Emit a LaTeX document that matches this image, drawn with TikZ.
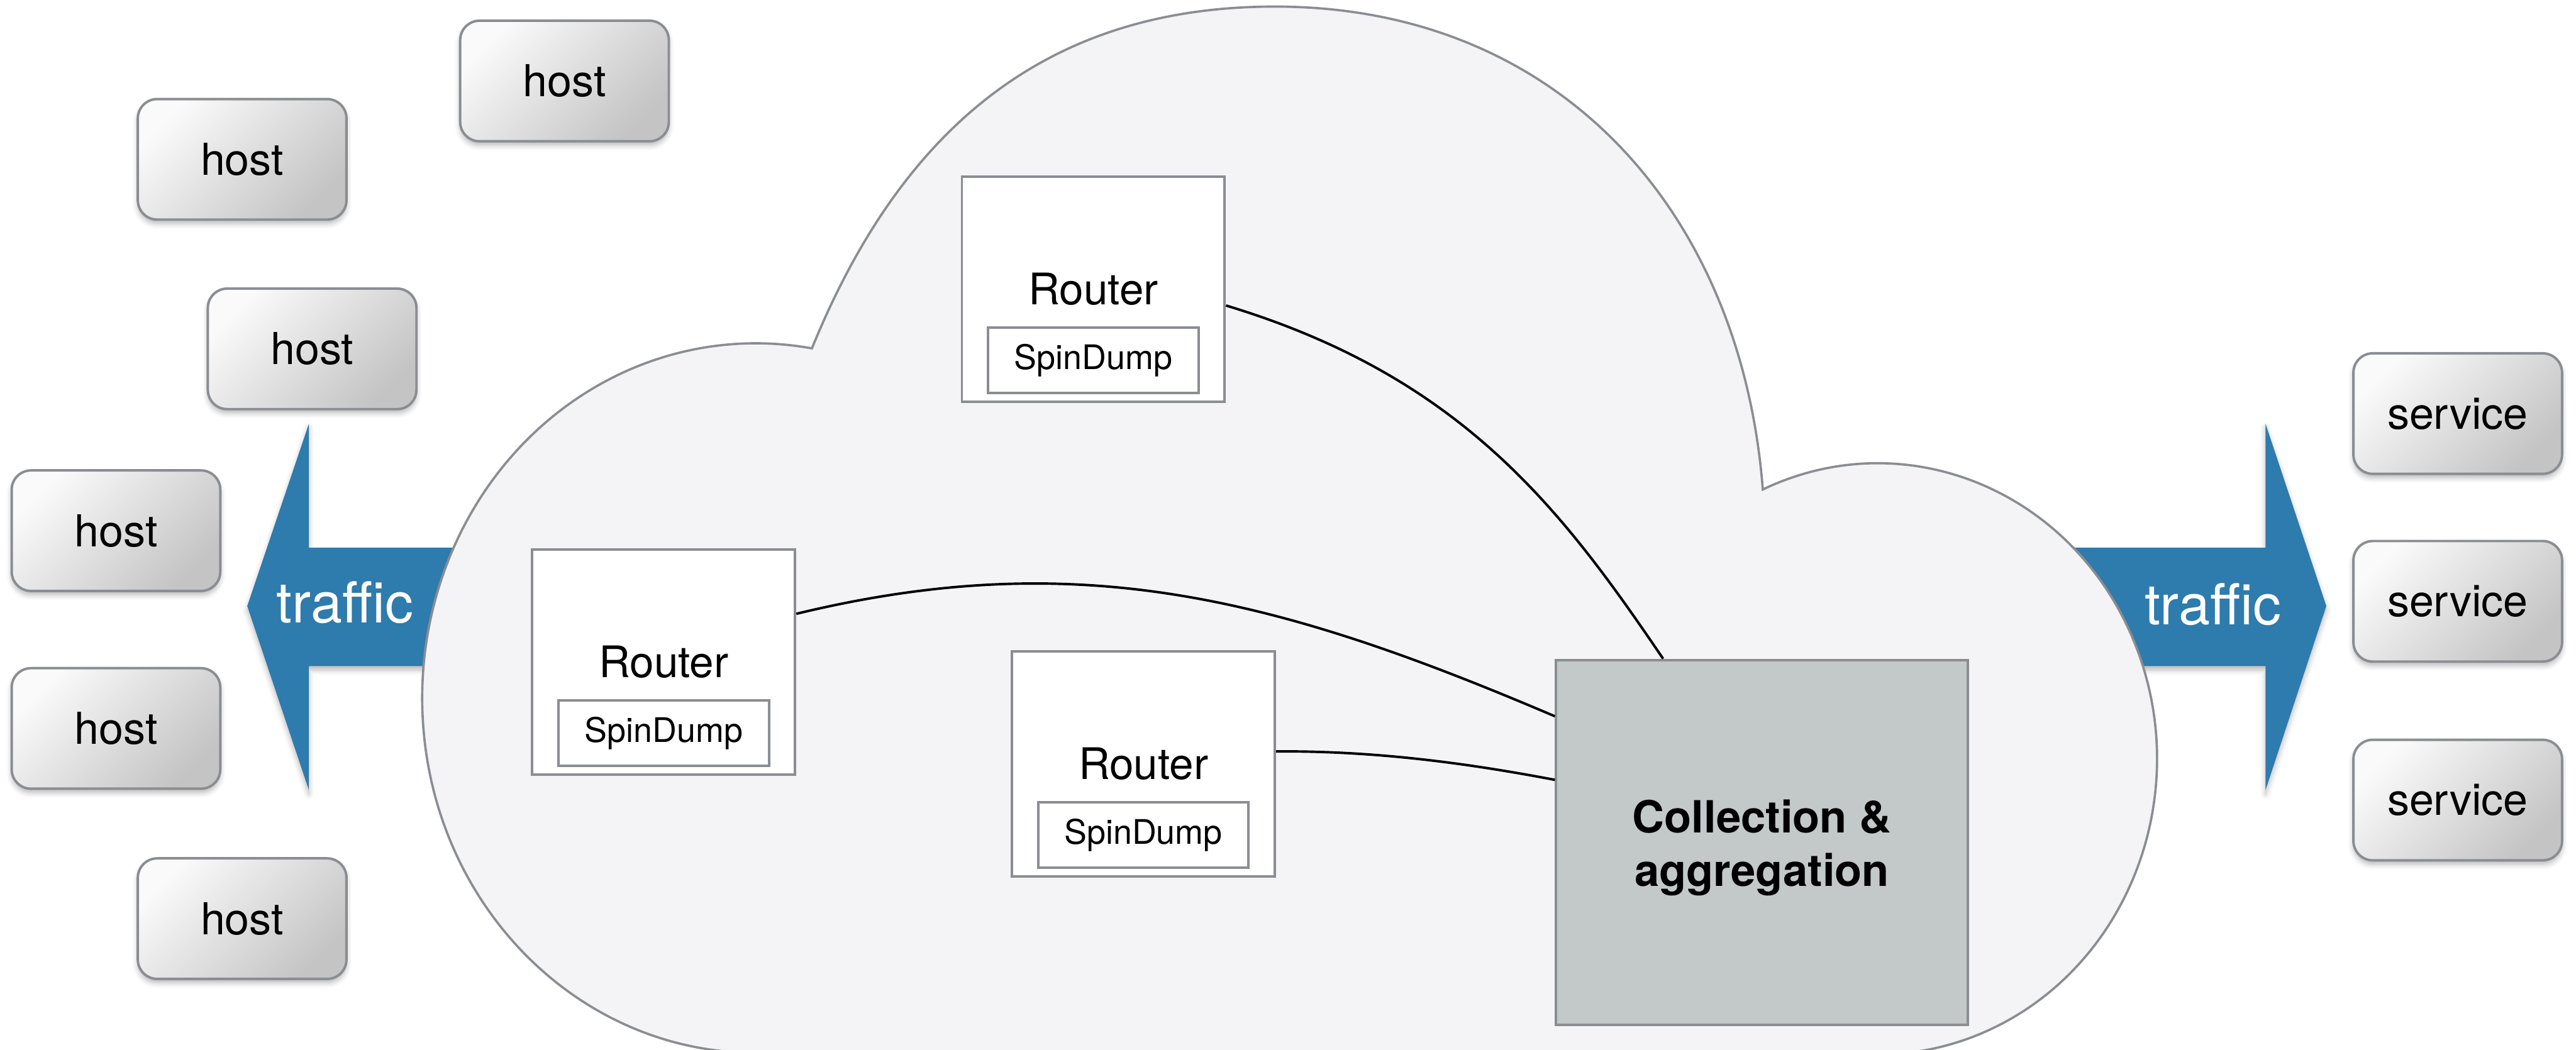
\documentclass[tikz,border=0pt]{standalone}
\usepackage{fontspec}
\setmainfont{TeX Gyre Heros}
\usetikzlibrary{calc,shadows.blur}

\definecolor{edgegray}{RGB}{138,141,145}
\definecolor{cloudfill}{RGB}{244,243,246}
\definecolor{flowblue}{RGB}{46,123,173}
\definecolor{collfill}{RGB}{195,200,200}
\definecolor{boxlight}{RGB}{250,250,250}
\definecolor{boxdark}{RGB}{196,196,196}

\begin{document}
\begin{tikzpicture}[x=0.5pt, y=-0.5pt,
  softshadow/.style={blur shadow={shadow xshift=0pt, shadow yshift=-1.2pt,
      shadow blur radius=1.6pt, shadow opacity=28}},
  endbox/.style={draw=edgegray, line width=0.75pt, rounded corners=5.9pt,
      minimum width=63.5pt, minimum height=36.7pt, inner sep=0pt,
      top color=boxlight, bottom color=boxdark, shading angle=45,
      softshadow, font=\fontsize{13.4}{16}\selectfont},
  routerbox/.style={draw=edgegray, line width=0.75pt, fill=white,
      minimum width=80pt, minimum height=68.5pt, inner sep=0pt},
  dumpbox/.style={draw=edgegray, line width=0.75pt, fill=white,
      minimum width=64pt, minimum height=20pt, inner sep=0pt,
      font=\fontsize{10.3}{12}\selectfont},
  routerlabel/.style={anchor=base, inner sep=0pt, font=\fontsize{13.25}{16}\selectfont},
  flowarrow/.style={fill=flowblue, softshadow},
  flowlabel/.style={text=white, inner sep=0pt, font=\fontsize{17.2}{20}\selectfont},
  cloudedge/.style={draw=edgegray, line width=0.7pt, fill=cloudfill},
  collbox/.style={draw=edgegray, line width=0.75pt, fill=collfill,
      minimum width=125.3pt, minimum height=111pt, inner sep=0pt},
  colllabel/.style={align=center, inner sep=0pt,
      font=\fontsize{13.5}{16.3}\selectfont\bfseries},
  link/.style={draw=black, line width=0.75pt}
]
\useasboundingbox (0,0) rectangle (1568,639);

% traffic arrows, partly hidden behind the cloud
\path[flowarrow] (300,333.5) -- (188,333.5) -- (188,258) -- (150.5,369)
  -- (188,481) -- (188,405.5) -- (300,405.5) -- cycle;
\path[flowarrow] (1250,333.5) -- (1379,333.5) -- (1379,258) -- (1416,369)
  -- (1379,481) -- (1379,405.5) -- (1250,405.5) -- cycle;

% the network cloud
\begin{scope}
  \clip (0,0) rectangle (1568,639);
  \path[cloudedge] (494.2,212.1) .. controls (550,75) and (640,4) .. (776,4)
    .. controls (950,4) and (1060,130) .. (1073,298)
    arc[start angle=-114.3, end angle=93, x radius=170, y radius=180]
    -- (1100,720) -- (480,720) -- (470.6,640.7)
    arc[start angle=87, end angle=279.7, x radius=203, y radius=216]
    -- cycle;
\end{scope}

\node[flowlabel] (tl) at (210,367) {traffic};
\node[flowlabel] (tr) at (1347,368) {traffic};

% hosts and services
\node[endbox] (h1) at (343.6,49.3) {host};
\node[endbox] (h2) at (147.4,97) {host};
\node[endbox] (h3) at (190,212.4) {host};
\node[endbox] (h4) at (70.6,323.1) {host};
\node[endbox] (h5) at (70.6,443.5) {host};
\node[endbox] (h6) at (147.4,559.3) {host};

\node[endbox] (s1) at (1496,251.8) {service};
\node[endbox] (s2) at (1496,366.1) {service};
\node[endbox] (s3) at (1496,487.1) {service};

% collector
\node[collbox] (coll) at (1072.5,512.8) {};
\node[colllabel] (colltext) at (1072.5,516.1) {Collection \&\\aggregation};

% routers with their SpinDump instances
\node[routerbox] (rA) at (665.5,176) {};
\node[routerlabel] (lA) at (665.5,185.3) {Router};
\node[dumpbox] (dA) at (665.5,219.3) {SpinDump};

\node[routerbox] (rB) at (404,403) {};
\node[routerlabel] (lB) at (404,412.3) {Router};
\node[dumpbox] (dB) at (404,446.3) {SpinDump};

\node[routerbox] (rC) at (696,465) {};
\node[routerlabel] (lC) at (696,474.3) {Router};
\node[dumpbox] (dC) at (696,508.3) {SpinDump};

% links from routers to the collector
\path[link] ($(rA.east)+(0,10)$) .. controls (890,229.4) and (950.7,310.2)
  .. ($(coll.north)+(-60.2,0)$);
\path[link] ($(rB.east)+(0,-29.3)$) .. controls (659.1,331.4) and (781.7,365.9)
  .. ($(coll.west)+(0,-76.7)$);
\path[link] ($(rC.east)+(0,-7.5)$) .. controls (840,457) and (898,465.6)
  .. ($(coll.west)+(0,-38)$);
\end{tikzpicture}
\end{document}
